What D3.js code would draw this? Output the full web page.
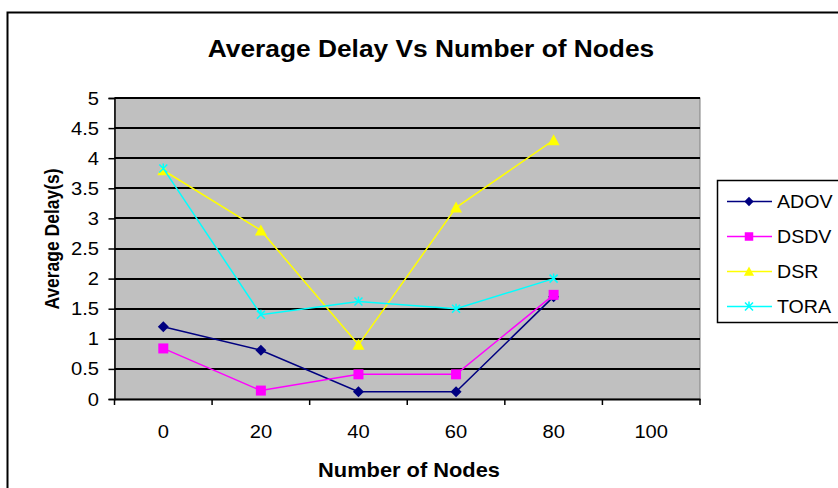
<!DOCTYPE html>
<html><head><meta charset="utf-8">
<script src="https://cdn.jsdelivr.net/npm/d3@7"></script>
<style>body{margin:0;background:#fff}svg{display:block}text{font-family:"Liberation Sans",Arial,sans-serif}</style>
</head><body>
<script>
const categories = ["0","20","40","60","80","100"];
const yTicks = [0,0.5,1,1.5,2,2.5,3,3.5,4,4.5,5];
const seriesNames = ["ADOV","DSDV","DSR","TORA"];
const adov = [1.2,0.81,0.12,0.12,1.7];
const dsdv = [0.84,0.14,0.41,0.41,1.73];
const dsr  = [3.8,2.8,0.9,3.18,4.3];
const tora = [3.83,1.4,1.62,1.5,2.0];
const colors = ["#000080","#ff00ff","#ffff00","#00ffff"];
const series = [adov,dsdv,dsr,tora];

const W=838,H=488, SX=1.12;
const svg=d3.select("body").append("svg").attr("width",W).attr("height",H);
svg.append("rect").attr("x",7.5).attr("y",12.5).attr("width",W).attr("height",H).attr("fill","#fff").attr("stroke","#000").attr("stroke-width",2);

const L=114.5,R=700,T=98,B=399;
const x=d3.scaleBand().domain(categories).range([L,R]);
const y=d3.scaleLinear().domain([0,5]).range([B,T]);

function txt(px,py,size,anchor,bold,s,extra){
  return svg.append("text").attr("transform",`translate(${px},${py}) scale(${SX},1)`+(extra||""))
    .attr("text-anchor",anchor).attr("font-size",size).attr("font-weight",bold?"bold":"normal").attr("fill","#000").text(s);
}

svg.append("rect").attr("x",L).attr("y",T).attr("width",R-L).attr("height",B-T).attr("fill","#c0c0c0").attr("stroke","#808080");
svg.append("g").selectAll("line").data(yTicks.slice(1)).join("line")
  .attr("x1",L).attr("x2",R).attr("y1",d=>Math.round(y(d))).attr("y2",d=>Math.round(y(d)))
  .attr("stroke","#000").attr("stroke-width",2);

// y axis
const ya=svg.append("g").attr("transform",`translate(${L},0)`)
  .call(d3.axisLeft(y).tickValues(yTicks).tickSize(6).tickFormat(""));
ya.select(".domain").attr("stroke","#000").attr("stroke-width",1.5);
ya.selectAll(".tick line").attr("stroke-width",1.5);
yTicks.forEach(v=>txt(99,y(v)+6.5,18,"end",false,String(v)));

// x axis
const xa=svg.append("g").attr("transform",`translate(0,${B})`)
  .call(d3.axisBottom(x).tickSize(0).tickFormat(""));
xa.select(".domain").attr("stroke","#000").attr("stroke-width",2);
const edges=categories.map(c=>x(c)).concat([R]);
svg.append("g").selectAll("line").data(edges).join("line")
  .attr("x1",d=>d).attr("x2",d=>d).attr("y1",B).attr("y2",B+6).attr("stroke","#000").attr("stroke-width",1.5);
categories.forEach(c=>txt(x(c)+x.bandwidth()/2,438,18,"middle",false,c));

const cx=(i)=>x(categories[i])+x.bandwidth()/2;
const line=d3.line().x((d,i)=>cx(i)).y(d=>y(d));

function marker(g,k,px,py,sz){
  const c=colors[k], s=sz||1;
  if(k===0){g.append("path").attr("d",`M${px},${py-5.5*s}L${px+5.5*s},${py}L${px},${py+5.5*s}L${px-5.5*s},${py}Z`).attr("fill",c);}
  else if(k===1){g.append("rect").attr("x",px-5*s).attr("y",py-5*s).attr("width",10*s).attr("height",10*s).attr("fill",c);}
  else if(k===2){g.append("path").attr("d",`M${px},${py-6*s}L${px+6*s},${py+5*s}L${px-6*s},${py+5*s}Z`).attr("fill",c);}
  else {g.append("path").attr("d",`M${px-4},${py-4}L${px+4},${py+4}M${px+4},${py-4}L${px-4},${py+4}M${px},${py-5}L${px},${py}`).attr("stroke",c).attr("stroke-width",1.5).attr("fill","none");}
}

series.forEach((s,k)=>{
  const g=svg.append("g");
  g.append("path").datum(s).attr("d",line).attr("fill","none").attr("stroke",colors[k]).attr("stroke-width",1.5);
  s.forEach((v,i)=>marker(g,k,cx(i),y(v)));
});

txt(431,57,23.5,"middle",true,"Average Delay Vs Number of Nodes");
txt(409,477,19.5,"middle",true,"Number of Nodes");
svg.append("text").attr("transform",`translate(59,239) scale(${SX},1) rotate(-90)`).attr("text-anchor","middle")
  .attr("font-size",17.5).attr("font-weight","bold").attr("fill","#000").text("Average Delay(s)");

const lg=svg.append("g");
lg.append("rect").attr("x",717.5).attr("y",180.5).attr("width",130).attr("height",142).attr("fill","#fff").attr("stroke","#000").attr("stroke-width",1.5);
seriesNames.forEach((n,k)=>{
  const yy=201.5+k*35;
  lg.append("line").attr("x1",727).attr("x2",772).attr("y1",yy).attr("y2",yy).attr("stroke",colors[k]).attr("stroke-width",1.5);
  marker(lg,k,749,yy,0.85);
  lg.append("text").attr("transform",`translate(777,${yy+6}) scale(1.06,1)`).attr("font-size",18.5).attr("fill","#000").text(n);
});
</script>
</body></html>
